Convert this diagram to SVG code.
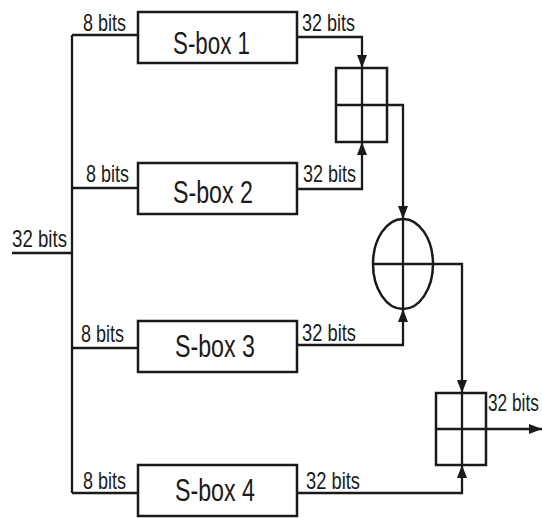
<svg xmlns="http://www.w3.org/2000/svg" width="542" height="518" viewBox="0 0 542 518">
<defs>
<marker id="arr" viewBox="0 0 13 10" refX="13" refY="5" markerWidth="13" markerHeight="10" markerUnits="userSpaceOnUse" orient="auto">
<path d="M0,0 L13,5 L0,10 z" fill="#1a1a1a"/>
</marker>
<style>
.box{fill:#fff;stroke:#1a1a1a;stroke-width:2.5}
.ln{fill:none;stroke:#1a1a1a;stroke-width:2.3}
.lbl{font-family:"Liberation Sans",Arial,sans-serif;font-size:24px;fill:#1a1a1a}
.sb{font-family:"Liberation Sans",Arial,sans-serif;font-size:31px;fill:#1a1a1a}
</style>
</defs>
<rect width="542" height="518" fill="#fff"/>
<g id="connectors">
<path class="ln" d="M12,253 H72"/>
<path class="ln" d="M72,35 V493"/>
<path class="ln" d="M72,35 H138"/>
<path class="ln" d="M72,188 H138"/>
<path class="ln" d="M72,348 H138"/>
<path class="ln" d="M72,493 H138"/>
<path class="ln" d="M297,37 H362 V68" marker-end="url(#arr)"/>
<path class="ln" d="M297,189 H362 V142" marker-end="url(#arr)"/>
<path class="ln" d="M387,105 H403 V219" marker-end="url(#arr)"/>
<path class="ln" d="M297,345 H403 V309" marker-end="url(#arr)"/>
<path class="ln" d="M433,264 H462 V393" marker-end="url(#arr)"/>
<path class="ln" d="M297,493 H462 V465" marker-end="url(#arr)"/>
<path class="ln" d="M486,429 H542" marker-end="url(#arr)"/>
<text class="lbl" x="12" y="247" textLength="55" lengthAdjust="spacingAndGlyphs">32 bits</text>
<text class="lbl" x="83" y="31" textLength="43" lengthAdjust="spacingAndGlyphs">8 bits</text>
<text class="lbl" x="86" y="182" textLength="43" lengthAdjust="spacingAndGlyphs">8 bits</text>
<text class="lbl" x="81" y="342" textLength="43" lengthAdjust="spacingAndGlyphs">8 bits</text>
<text class="lbl" x="83" y="489" textLength="43" lengthAdjust="spacingAndGlyphs">8 bits</text>
<text class="lbl" x="302" y="31" textLength="53" lengthAdjust="spacingAndGlyphs">32 bits</text>
<text class="lbl" x="303" y="182" textLength="53" lengthAdjust="spacingAndGlyphs">32 bits</text>
<text class="lbl" x="302" y="341" textLength="54" lengthAdjust="spacingAndGlyphs">32 bits</text>
<text class="lbl" x="306" y="489" textLength="54" lengthAdjust="spacingAndGlyphs">32 bits</text>
<text class="lbl" transform="translate(488,411) scale(0.72,1)">32 bits</text>
</g>
<g id="sbox1">
<rect class="box" x="138" y="12" width="159" height="51"/>
<text class="sb" x="173" y="54" textLength="77" lengthAdjust="spacingAndGlyphs">S-box 1</text>
</g>
<g id="sbox2">
<rect class="box" x="138" y="163" width="159" height="51"/>
<text class="sb" x="173" y="203" textLength="80" lengthAdjust="spacingAndGlyphs">S-box 2</text>
</g>
<g id="sbox3">
<rect class="box" x="138" y="321" width="159" height="51"/>
<text class="sb" x="175" y="357" textLength="80" lengthAdjust="spacingAndGlyphs">S-box 3</text>
</g>
<g id="sbox4">
<rect class="box" x="138" y="465" width="159" height="51"/>
<text class="sb" x="175" y="501" textLength="80" lengthAdjust="spacingAndGlyphs">S-box 4</text>
</g>
<g id="add1">
<rect class="box" x="336" y="68" width="51" height="74"/>
<path class="ln" d="M336,105 H387 M362,68 V142"/>
</g>
<g id="xor">
<ellipse class="box" cx="403" cy="264" rx="30" ry="45"/>
<path class="ln" d="M373,264 H433 M403,219 V309"/>
</g>
<g id="add2">
<rect class="box" x="436" y="393" width="50" height="72"/>
<path class="ln" d="M436,429 H486 M462,393 V465"/>
</g>
</svg>
